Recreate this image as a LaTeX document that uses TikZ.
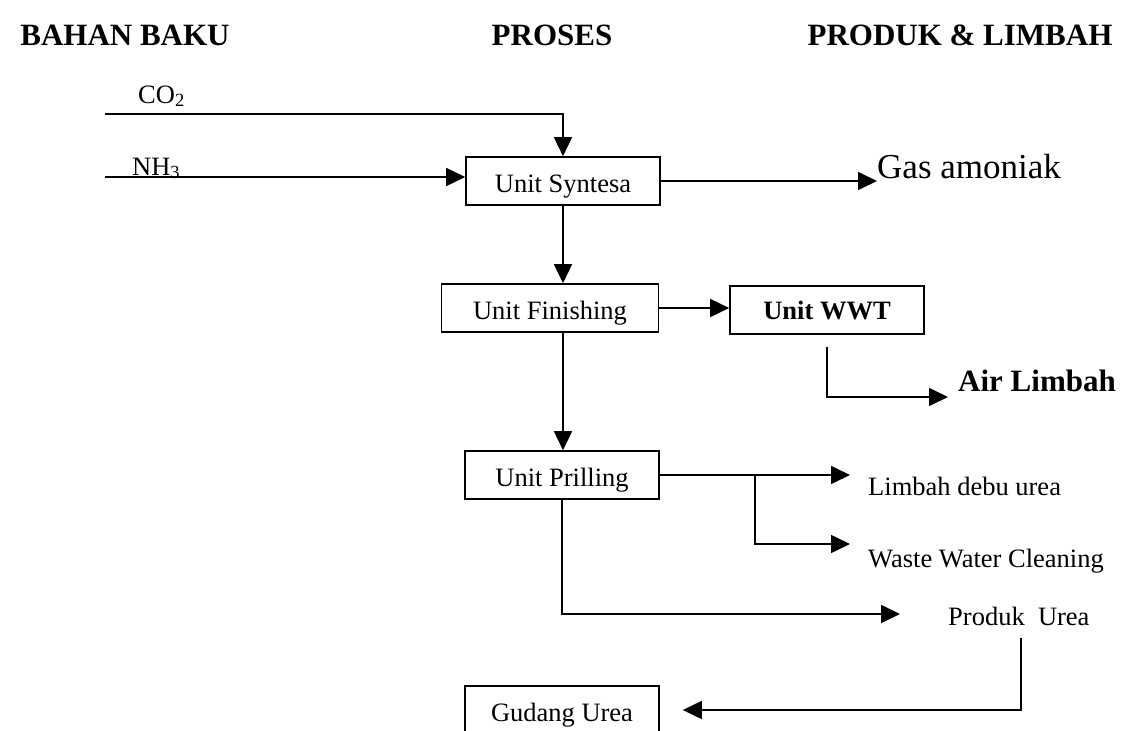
\documentclass[tikz,border=0pt]{standalone}
\usepackage{fontspec}
\setmainfont{Liberation Serif}
\usetikzlibrary{arrows.meta}

\begin{document}
\begin{tikzpicture}[x=1pt,y=-1pt,
    unitbox/.style={draw, line width=1.6pt, minimum width=194pt, minimum height=48pt,
      inner sep=0pt, text height=23pt, text depth=0pt, font=\fontsize{26.5}{30}\selectfont},
    flow/.style={line width=1.6pt, -{Triangle[length=19pt,width=18pt]}},
    txt/.style={inner sep=0pt, font=\fontsize{26.5}{30}\selectfont},
    head/.style={inner sep=0pt, font=\bfseries\fontsize{31}{36}\selectfont}]
    \useasboundingbox (0,0) rectangle (1125,731);

    % Column headers
    \node[head] (hbahan) at (125,35) {BAHAN BAKU};
    \node[head] (hproses) at (552,35) {PROSES};
    \node[head] (hproduk) at (960,35) {PRODUK \& LIMBAH};

    % Raw materials
    \node[txt, anchor=base west] (co2) at (138,103) {CO\textsubscript{2}};
    \node[txt, anchor=base west] (nh3) at (132,175) {NH\textsubscript{3}};
    \coordinate (co2in) at (105,114);
    \coordinate (nh3in) at (105,177);

    % Process units
    \node[unitbox] (syn) at (563,181) {Unit Syntesa};
    \node[unitbox, minimum width=217pt] (fin) at (550,308) {Unit Finishing};
    \node[unitbox, text height=19pt, font=\bfseries\fontsize{26.5}{30}\selectfont] (wwt) at (827,310) {Unit WWT};
    \node[unitbox] (pril) at (562,475) {Unit Prilling};
    \node[unitbox] (gud) at (562,710) {Gudang Urea};

    % Products and waste
    \node[txt, font=\fontsize{35}{40}\selectfont, anchor=base west] (gas) at (877,178) {Gas amoniak};
    \node[txt, font=\bfseries\fontsize{31}{36}\selectfont, anchor=base west] (air) at (958,391) {Air Limbah};
    \node[txt, anchor=base west] (ldu) at (868,495) {Limbah debu urea};
    \node[txt, anchor=base west] (wwc) at (868,567) {Waste Water Cleaning};
    \node[txt, anchor=base west] (prod) at (948,625) {Produk\ \ Urea};

    % Connector ends
    \coordinate (airin) at (948,397);
    \coordinate (br) at (755,475);
    \coordinate (lduin) at (850,473);
    \coordinate (wwcin) at (850,544);
    \coordinate (prodin) at (900,614);
    \coordinate (prodout) at (1021,638);

    % Flows
    \draw[flow] (co2in) -| (syn.north);
    \draw[flow] (nh3in) -- (nh3in -| syn.west);
    \draw[flow] (syn.east) -- (syn.east -| gas.west);
    \draw[flow] (syn.south) -- (syn.south |- fin.north);
    \draw[flow] (fin.east) -- (fin.east -| wwt.west);
    \draw[flow, shorten <=12pt] (wwt.south) |- (airin);
    \draw[flow] (fin.south -| syn.south) -- (syn.south |- pril.north);
    \draw[flow] (pril.east) -- (pril.east -| lduin);
    \draw[flow] (br) |- (wwcin);
    \draw[flow] (pril.south) |- (prodin);
    \draw[flow, shorten >=23pt] (prodout) |- (gud.east);
\end{tikzpicture}
\end{document}
